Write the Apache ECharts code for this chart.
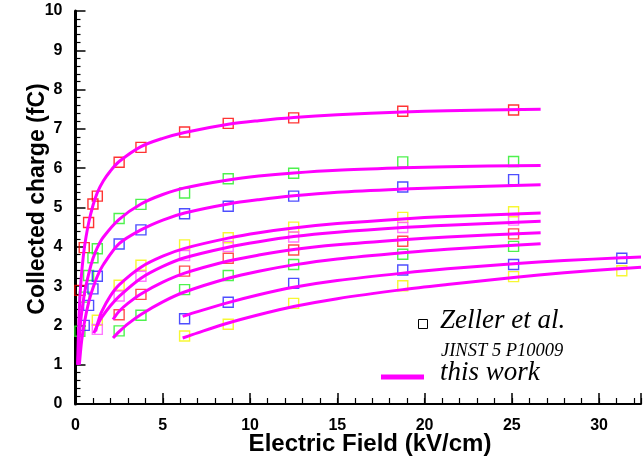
<!DOCTYPE html>
<html><head><meta charset="utf-8">
<script src="https://cdn.jsdelivr.net/npm/echarts@6/dist/echarts.min.js"></script>
<style>html,body{margin:0;padding:0;background:#fff}#c{width:644px;height:465px}</style>
</head><body><div id="c"></div>
<script>
// Zeller et al. measured points (field kV/cm, charge fC)
const red1   = [[0.25,2.89],[0.5,3.98],[0.75,4.62],[1.0,5.09],[1.25,5.29],[2.5,6.15],[3.75,6.53],[6.25,6.92],[8.75,7.14],[12.5,7.28],[18.75,7.45],[25.1,7.48]];
const green2 = [[0.25,1.85],[0.5,2.72],[0.75,3.27],[1.0,3.72],[1.25,3.95],[2.5,4.72],[3.75,5.08],[6.25,5.37],[8.75,5.73],[12.5,5.87],[18.75,6.16],[25.1,6.17]];
const blue3  = [[0.5,2.0],[0.75,2.51],[1.0,2.93],[1.25,3.25],[2.5,4.07],[3.75,4.43],[6.25,4.84],[8.75,5.03],[12.5,5.29],[18.75,5.52],[25.1,5.71]];
const yellow4= [[1.25,2.13],[2.5,3.02],[3.75,3.53],[6.25,4.05],[8.75,4.23],[12.5,4.50],[18.75,4.75],[25.1,4.89]];
const pink5  = [[1.25,1.90],[2.5,2.75],[3.75,3.25],[6.25,3.78],[8.75,4.01],[12.5,4.25],[18.75,4.49],[25.1,4.68]];
const red6   = [[2.5,2.27],[3.75,2.79],[6.25,3.38],[8.75,3.71],[12.5,3.92],[18.75,4.14],[25.1,4.33]];
const green7 = [[2.5,1.86],[3.75,2.26],[6.25,2.91],[8.75,3.27],[12.5,3.55],[18.75,3.81],[25.1,4.01]];
const blue8  = [[6.25,2.17],[8.75,2.59],[12.5,3.07],[18.75,3.41],[25.1,3.55],[31.3,3.71]];
const yellow9= [[6.25,1.73],[8.75,2.03],[12.5,2.56],[18.75,3.01],[25.1,3.24],[31.3,3.39]];

// "this work" curves
const fit1 = [[0.12,1.0],[0.2,2.2],[0.3,3.05],[0.5,3.95],[0.75,4.6],[1.0,5.05],[1.25,5.38],[1.6,5.68],[2.0,5.93],[2.5,6.17],[3.75,6.55],[5,6.76],[6.25,6.91],[8.75,7.12],[10.5,7.21],[12.5,7.29],[15,7.36],[18.75,7.43],[21.3,7.46],[26.65,7.5]];
const fit2 = [[0.15,1.0],[0.25,1.9],[0.5,2.78],[0.75,3.3],[1.0,3.7],[1.25,3.98],[1.6,4.25],[2.5,4.7],[3.75,5.09],[5,5.33],[6.25,5.5],[8.75,5.70],[10.5,5.80],[12.5,5.88],[15,5.95],[18.75,6.01],[21.3,6.04],[26.65,6.07]];
const fit3 = [[0.22,1.0],[0.35,1.6],[0.5,2.05],[0.75,2.58],[1.0,2.95],[1.25,3.25],[1.6,3.55],[2.5,4.08],[3.75,4.43],[5,4.68],[6.25,4.86],[8.75,5.09],[10.5,5.2],[12.5,5.3],[15,5.39],[18.75,5.47],[21.3,5.51],[26.65,5.58]];
const fit4 = [[1.15,1.85],[1.3,2.1],[1.5,2.35],[2,2.75],[2.5,3.03],[3.75,3.48],[5,3.76],[6.25,3.96],[8.75,4.22],[10.5,4.36],[12.5,4.48],[15,4.59],[18.75,4.71],[21.3,4.77],[26.65,4.86]];
const fit5 = [[1.05,1.8],[1.25,2.0],[1.5,2.2],[2,2.5],[2.5,2.74],[3.75,3.2],[5,3.5],[6.25,3.72],[8.75,3.99],[10.5,4.13],[12.5,4.26],[15,4.37],[18.75,4.49],[21.3,4.55],[26.65,4.65]];
const fit6 = [[2.15,2.15],[2.5,2.36],[3,2.56],[3.75,2.8],[5,3.1],[6.25,3.33],[8.75,3.64],[10.5,3.79],[12.5,3.93],[15,4.05],[18.75,4.18],[21.3,4.25],[26.65,4.36]];
const fit7 = [[2.15,1.68],[2.5,1.84],[3,2.04],[3.75,2.28],[5,2.6],[6.25,2.85],[8.75,3.2],[10.5,3.38],[12.5,3.54],[15,3.69],[18.75,3.85],[21.3,3.94],[26.65,4.08]];
const fit8 = [[6.14,2.23],[7,2.35],[8.75,2.58],[10.5,2.78],[12.5,2.97],[15,3.14],[18.75,3.33],[21.3,3.44],[25.1,3.57],[28,3.65],[31.3,3.72],[32.4,3.74]];
const fit9 = [[6.14,1.68],[7,1.81],[8.75,2.06],[10.5,2.27],[12.5,2.48],[15,2.68],[18.75,2.91],[21.3,3.04],[25.1,3.22],[28,3.34],[31.3,3.45],[32.4,3.48]];

const xTicks = [0,5,10,15,20,25,30];
const yTicks = [0,1,2,3,4,5,6,7,8,9,10];
const xTitle = 'Electric Field (kV/cm)';
const yTitle = 'Collected charge (fC)';

const pointSets = [
  [red1,'#ff0000'],[green2,'#22ee22'],[blue3,'#2222ff'],[yellow4,'#f5f500'],[pink5,'#ff55ff'],
  [red6,'#ff2222'],[green7,'#22ee22'],[blue8,'#2222ff'],[yellow9,'#f5f500']
];
const fits = [fit1,fit2,fit3,fit4,fit5,fit6,fit7,fit8,fit9];

const series = [];
pointSets.forEach(([d,c])=>{
  series.push({type:'scatter',data:d,symbol:'rect',symbolSize:10,z:2,
    itemStyle:{color:'rgba(0,0,0,0)',borderColor:c,borderWidth:1.4},silent:true});
});
fits.forEach(d=>{
  series.push({type:'line',data:d,smooth:0.3,showSymbol:false,z:3,
    lineStyle:{color:'#ff00ff',width:3},silent:true});
});

const chart = echarts.init(document.getElementById('c'));
chart.setOption({
  animation:false,
  backgroundColor:'#fff',
  grid:{left:75.5,top:11,bottom:61,right:0},
  xAxis:[{type:'value',min:0,max:32.4,interval:5,
    axisLine:{lineStyle:{color:'#000',width:2}},
    axisTick:{inside:true,length:11,lineStyle:{color:'#000',width:1.5}},
    splitLine:{show:false},
    axisLabel:{margin:14,fontFamily:'Liberation Sans',fontWeight:'bold',fontSize:16,color:'#000',
      formatter:v=>xTicks.includes(v)?String(v):''}
  },{type:'value',min:0,max:32.4,interval:1,position:'bottom',
    axisLine:{show:false},
    axisTick:{inside:true,length:6,lineStyle:{color:'#000',width:1.2}},
    splitLine:{show:false},axisLabel:{show:false}
  }],
  yAxis:{type:'value',min:0,max:10,interval:1,
    axisLine:{lineStyle:{color:'#000',width:3}},
    axisTick:{inside:true,length:10,lineStyle:{color:'#000',width:1.5}},
    minorTick:{show:true,splitNumber:5,length:5,lineStyle:{color:'#000',width:1.2}},
    splitLine:{show:false},
    axisLabel:{margin:13,fontFamily:'Liberation Sans',fontWeight:'bold',fontSize:16,color:'#000',
      formatter:v=>yTicks.includes(v)?String(v):''}
  },
  series:series,
  graphic:[
    {type:'text',style:{x:370,y:444,text:xTitle,font:'bold 24px "Liberation Sans"',fill:'#000',align:'center',verticalAlign:'middle'},z:10},
    {type:'text',x:38,y:199,rotation:Math.PI/2,style:{x:0,y:0,text:yTitle,font:'bold 23px "Liberation Sans"',fill:'#000',align:'center',verticalAlign:'middle'},z:10},
    {type:'rect',shape:{x:418.5,y:319.5,width:9,height:9},style:{fill:'#fff',stroke:'#000',lineWidth:1},z:10},
    {type:'text',style:{x:440,y:321,text:'Zeller et al.',font:'italic 27px "Liberation Serif"',fill:'#000',verticalAlign:'middle'},z:10},
    {type:'text',style:{x:441,y:351,text:'JINST 5 P10009',font:'italic 18.5px "Liberation Serif"',fill:'#000',verticalAlign:'middle'},z:10},
    {type:'line',shape:{x1:381,y1:377,x2:424,y2:377},style:{stroke:'#ff00ff',lineWidth:5},z:10},
    {type:'text',style:{x:440,y:373,text:'this work',font:'italic 27px "Liberation Serif"',fill:'#000',verticalAlign:'middle'},z:10}
  ]
});
</script></body></html>
